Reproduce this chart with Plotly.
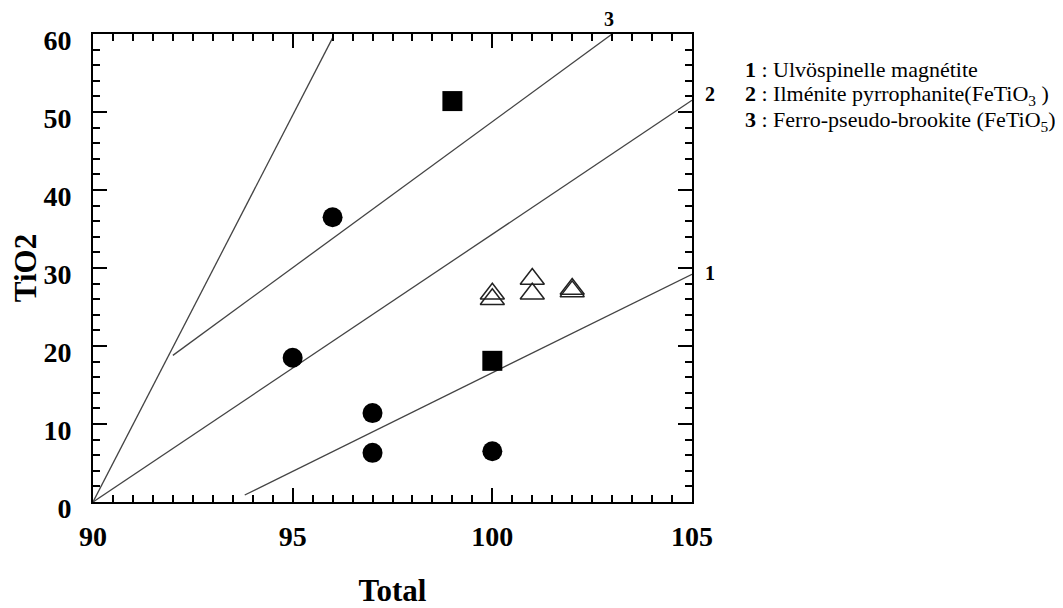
import plotly.graph_objects as go

# ---- data ----
circle_x = [96, 95, 97, 97, 100]
circle_y = [36.5, 18.5, 11.4, 6.3, 6.5]
square_x = [99, 100]
square_y = [51.4, 18.1]
tri_x = [100, 100, 101, 101, 102, 102]
tri_y = [26.7, 26.0, 28.6, 26.7, 27.3, 27.0]

line1_x = [93.8, 105]
line1_y = [0.9, 29.2]
line2_x = [90, 105]
line2_y = [0, 51.5]
line3_x = [92, 103]
line3_y = [18.8, 60]
line4_x = [90, 96]
line4_y = [0, 59.5]

x_ticks = [90, 95, 100, 105]
y_ticks = [0, 10, 20, 30, 40, 50, 60]

legend_lines = [
    "<b>1</b> : Ulvöspinelle magnétite",
    "<b>2</b> : Ilménite pyrrophanite(FeTiO<sub>3</sub> )",
    "<b>3</b> : Ferro-pseudo-brookite (FeTiO<sub>5</sub>)",
]

FONT = "Liberation Serif"
LINE_COL = "#444444"

# page has an 8px body margin
OFF = 8
W, H = 1063 - OFF, 608 - OFF
L, R, T, B = 93 - OFF, 371, 34 - OFF, 106
pw, ph = W - L - R, H - T - B

fig = go.Figure()
for lx, ly in [(line1_x, line1_y), (line2_x, line2_y), (line3_x, line3_y), (line4_x, line4_y)]:
    fig.add_trace(go.Scatter(x=lx, y=ly, mode="lines",
                             line=dict(color=LINE_COL, width=1.3),
                             showlegend=False, hoverinfo="skip"))

fig.add_trace(go.Scatter(x=circle_x, y=circle_y, mode="markers",
                         marker=dict(symbol="circle", size=20, color="black"),
                         showlegend=False))
fig.add_trace(go.Scatter(x=square_x, y=square_y, mode="markers",
                         marker=dict(symbol="square", size=20, color="black"),
                         showlegend=False))
fig.add_trace(go.Scatter(x=tri_x, y=tri_y, mode="markers",
                         marker=dict(symbol="triangle-up-open", size=21,
                                     color="#222222", line=dict(width=1.5, color="#222222")),
                         showlegend=False))

# line labels
fig.add_annotation(x=line3_x[1], y=line3_y[1], text="<b>3</b>", showarrow=False,
                   xref="x", yref="y", yshift=15, xshift=-3,
                   font=dict(family=FONT, size=20, color="black"))
fig.add_annotation(x=line2_x[1], y=line2_y[1], text="<b>2</b>", showarrow=False,
                   xref="x", yref="y", xshift=18, yshift=6,
                   font=dict(family=FONT, size=20, color="black"))
fig.add_annotation(x=line1_x[1], y=line1_y[1], text="<b>1</b>", showarrow=False,
                   xref="x", yref="y", xshift=18, yshift=1,
                   font=dict(family=FONT, size=20, color="black"))

# legend text (positions given in window pixels, converted to paper coords)
for i, t in enumerate(legend_lines):
    px_x, px_y = 743 - OFF, 70 + 25.5 * i - OFF
    fig.add_annotation(x=(px_x - L) / pw, y=1 - (px_y - T) / ph,
                       xref="paper", yref="paper", text=t,
                       showarrow=False, xanchor="left", yanchor="middle",
                       font=dict(family=FONT, size=22, color="black"))

axis_common = dict(
    showline=True, linecolor="black", linewidth=2, mirror="ticks",
    ticks="inside", ticklen=14, tickwidth=1.5, tickcolor="black",
    showgrid=False, zeroline=False,
    tickfont=dict(family=FONT, size=28, color="black"),
)

fig.update_xaxes(range=[90, 105], tickvals=x_ticks, ticktext=[f"<b>{v}</b>" for v in x_ticks],
                 minor=dict(dtick=0.5, ticks="inside", ticklen=7, tickwidth=1.5, tickcolor="black"),
                 title=dict(text="<b>Total</b>", font=dict(family=FONT, size=31, color="black"), standoff=30),
                 ticklabelstandoff=8,
                 **axis_common)
fig.update_yaxes(range=[0, 60], tickvals=y_ticks, ticktext=[f"<b>{v}</b>" for v in y_ticks],
                 minor=dict(dtick=2, ticks="inside", ticklen=7, tickwidth=1.5, tickcolor="black"),
                 title=dict(text="<b>TiO2</b>", font=dict(family=FONT, size=31, color="black"), standoff=8),
                 ticklabelstandoff=14, ticklabelshift=6,
                 **axis_common)

fig.update_layout(
    width=W, height=H,
    margin=dict(l=L, r=R, t=T, b=B, autoexpand=False),
    paper_bgcolor="white", plot_bgcolor="white",
    showlegend=False,
)

fig.write_html("out.html")
